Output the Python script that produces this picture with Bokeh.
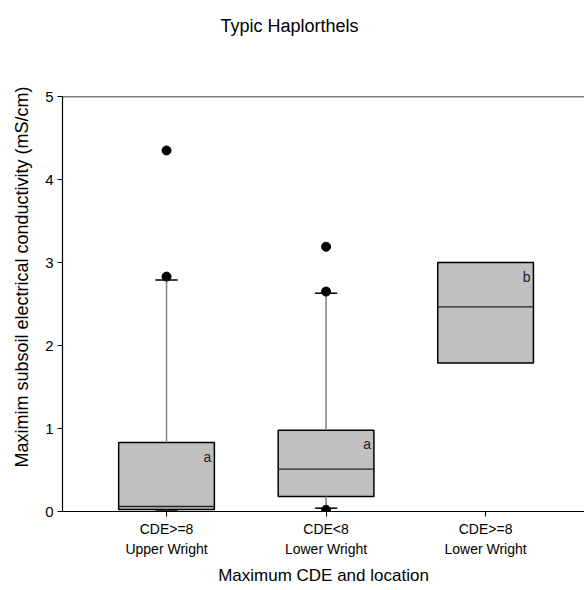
from bokeh.plotting import figure
from bokeh.models import (Range1d, FixedTicker, LinearAxis, Span, Title, ColumnDataSource)
from bokeh.embed import file_html
from bokeh.resources import INLINE

# ---- data ----
categories = ["CDE>=8", "CDE<8", "CDE>=8"]
locations = ["Upper Wright", "Lower Wright", "Lower Wright"]
positions = [1, 2, 3]
q1 = [0.025, 0.18, 1.79]
median = [0.06, 0.51, 2.465]
q3 = [0.83, 0.98, 3.0]
whisker_low = [0.005, 0.04, None]
whisker_high = [2.79, 2.63, None]
outlier_group = [1, 1, 2, 2, 2]
outlier_value = [4.35, 2.83, 3.19, 2.65, 0.02]
letters = ["a", "a", "b"]
y_ticks = [0, 1, 2, 3, 4, 5]

title_text = "Typic Haplorthels"
x_title = "Maximum CDE and location"
y_title = "Maximim subsoil electrical conductivity (mS/cm)"

FONT = "Liberation Sans"
BOX_W = 0.6
CAP_W = 0.14

p = figure(width=584, height=590, output_backend="svg", toolbar_location=None,
           x_range=Range1d(0.348, 3.62), y_range=Range1d(0, 5),
           min_border_left=62, min_border_right=0, min_border_top=96,
           min_border_bottom=79)
p.outline_line_color = None
p.xgrid.visible = False
p.ygrid.visible = False
p.background_fill_color = "white"
p.border_fill_color = "white"

# spacer between frame and title (keeps the title high above the frame)
spacer = Title(text=" ", text_font_size="1px", standoff=53)
p.add_layout(spacer, "above")

p.title.text = title_text
p.title.align = "left"
p.title.offset = 158
p.title.vertical_align = "bottom"
p.title.text_font = FONT
p.title.text_font_size = "18px"
p.title.text_font_style = "normal"
p.title.text_color = "black"
p.title.standoff = 10

# y axis
ya = p.yaxis[0]
ya.ticker = FixedTicker(ticks=y_ticks)
ya.major_tick_in = 0
ya.major_tick_out = 5
ya.minor_tick_line_color = None
ya.major_label_standoff = 4
ya.major_label_text_font = FONT
ya.major_label_text_font_size = "15px"
ya.major_label_text_color = "black"
ya.axis_line_color = "black"
ya.axis_line_width = 1.2
ya.major_tick_line_color = "black"

# y axis title, placed as a side title
yt = Title(text=y_title, align="left", offset=44, vertical_align="top",
           text_font=FONT, text_font_size="18px", text_font_style="normal",
           text_color="black", standoff=18)
p.add_layout(yt, "left")

# x axis (first line of category labels)
xa = p.xaxis[0]
xa.ticker = FixedTicker(ticks=positions)
xa.major_label_overrides = {pos: c for pos, c in zip(positions, categories)}
xa.major_tick_in = 0
xa.major_tick_out = 5
xa.minor_tick_line_color = None
xa.major_label_standoff = 4
xa.major_label_text_font = FONT
xa.major_label_text_font_size = "14px"
xa.major_label_text_color = "black"
xa.axis_line_color = "black"
xa.axis_line_width = 1.2

# second line of category labels + axis title
xa2 = LinearAxis(ticker=FixedTicker(ticks=positions),
                 major_label_overrides={pos: l for pos, l in zip(positions, locations)})
xa2.axis_line_color = None
xa2.major_tick_line_color = None
xa2.minor_tick_line_color = None
xa2.major_tick_in = 0
xa2.major_tick_out = 0
xa2.major_label_standoff = 1
xa2.major_label_text_font = FONT
xa2.major_label_text_font_size = "14px"
xa2.major_label_text_color = "black"
xa2.axis_label = x_title
xa2.axis_label_text_font = FONT
xa2.axis_label_text_font_size = "17px"
xa2.axis_label_text_font_style = "normal"
xa2.axis_label_text_color = "black"
xa2.axis_label_standoff = 6
p.add_layout(xa2, "below")

# top border line
p.add_layout(Span(location=5, dimension="width", line_color="black", line_width=1.5))

# boxes
src = ColumnDataSource(dict(x=positions, q1=q1, q3=q3, med=median,
                            x0=[x - BOX_W / 2 for x in positions],
                            x1=[x + BOX_W / 2 for x in positions]))
p.vbar(x="x", width=BOX_W, bottom="q1", top="q3", source=src,
       fill_color="#c0c0c0", line_color="black", line_width=1.5)
p.segment(x0="x0", y0="med", x1="x1", y1="med", source=src,
          line_color="#222222", line_width=1.3)

# whiskers and caps
wx, wy0, wy1, cx0, cx1, cy = [], [], [], [], [], []
for x, lo, hi, b, t in zip(positions, whisker_low, whisker_high, q1, q3):
    if hi is not None:
        wx.append(x); wy0.append(t); wy1.append(hi)
        cx0.append(x - CAP_W / 2); cx1.append(x + CAP_W / 2); cy.append(hi)
    if lo is not None:
        wx.append(x); wy0.append(b); wy1.append(lo)
        cx0.append(x - CAP_W / 2); cx1.append(x + CAP_W / 2); cy.append(lo)
p.segment(x0=wx, y0=wy0, x1=wx, y1=wy1, line_color="#808080", line_width=1.5)
p.segment(x0=cx0, y0=cy, x1=cx1, y1=cy, line_color="black", line_width=1.5)

# outliers
p.scatter(x=outlier_group, y=outlier_value, size=9, marker="circle",
          fill_color="black", line_color="black")

# significance letters
p.text(x=[x + BOX_W / 2 for x in positions], y=q3, text=letters,
       text_align="right", text_baseline="top", x_offset=-3, y_offset=6,
       text_font_size="14px", text_color="#222222",
       text_font={"value": FONT})

open("out.html", "w").write(file_html(p, INLINE))
